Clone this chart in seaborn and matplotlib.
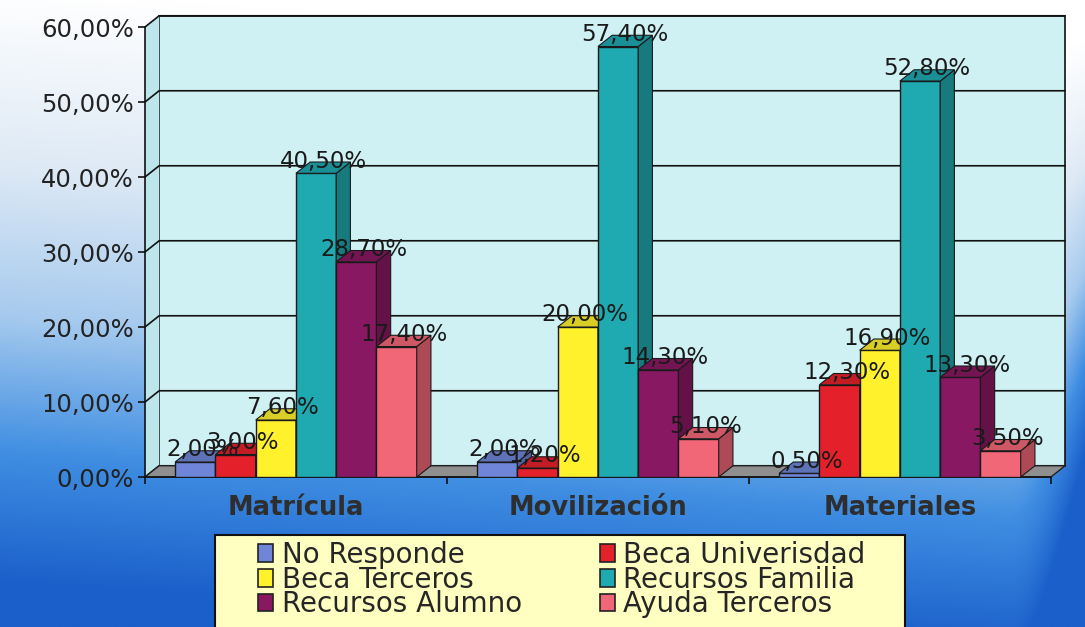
import numpy as np
import pandas as pd
import matplotlib
matplotlib.use("Agg")
import matplotlib.pyplot as plt
import seaborn as sns
from matplotlib.patches import Polygon, Rectangle, Patch
from matplotlib.colors import LinearSegmentedColormap, to_rgb
from matplotlib.ticker import FuncFormatter

# Data (percent)
categories = ["Matrícula", "Movilización", "Materiales"]
sources = ["No Responde", "Beca Univerisdad", "Beca Terceros",
           "Recursos Familia", "Recursos Alumno", "Ayuda Terceros"]
no_responde = [2.00, 2.00, 0.50]
beca_univ = [3.00, 1.20, 12.30]
beca_terceros = [7.60, 20.00, 16.90]
recursos_familia = [40.50, 57.40, 52.80]
recursos_alumno = [28.70, 14.30, 13.30]
ayuda_terceros = [17.40, 5.10, 3.50]
colors = ["#6f86d8", "#e4212b", "#fff22c", "#1fa9b1", "#891862", "#f26777"]
yticks = [0, 10, 20, 30, 40, 50, 60]

series = [no_responde, beca_univ, beca_terceros,
          recursos_familia, recursos_alumno, ayuda_terceros]
df = pd.DataFrame({
    "Uso": categories * len(sources),
    "Fuente": [s for s in sources for _ in categories],
    "Porcentaje": [v for vals in series for v in vals],
})


def pct(v):
    return f"{v:.2f}".replace(".", ",") + "%"


def shade(c, f):
    r, g, b = to_rgb(c)
    return (r * f, g * f, b * f)


sns.set_theme(style="white")
plt.rcParams["font.family"] = ["DejaVu Sans"]

fig = plt.figure(figsize=(10.85, 6.27), dpi=100)

# background gradient (white top -> blue bottom, bluer at the edges)
bg = fig.add_axes([0, 0, 1, 1], zorder=-10)
bg.axis("off")
yy, xx = np.mgrid[0:1:300j, 0:1:500j]
t = yy * 1.05 + (1 - xx) * 0.12 - 0.1 + np.clip((xx - 0.93) / 0.07, 0, 1) ** 2 * 0.45 * yy
t = np.clip(t, 0, 1)
cmap = LinearSegmentedColormap.from_list(
    "bgblue", [(0, "#ffffff"), (0.3, "#dde9f5"), (0.55, "#a6caee"),
               (0.78, "#3f8ee2"), (1, "#1b5fca")])
bg.imshow(t, cmap=cmap, aspect="auto", extent=[0, 1, 0, 1], vmin=0, vmax=1)

ax = fig.add_axes([0.1336, 0.2392, 0.835, 0.7177])
ax.patch.set_alpha(0)

sns.barplot(data=df, x="Uso", y="Porcentaje", hue="Fuente", order=categories,
            hue_order=sources, palette=colors, saturation=1, width=0.8,
            edgecolor="#1a1a1a", linewidth=1, ax=ax, legend=False)

ax.set_xlim(-0.5, 2.5)
ax.set_ylim(0, 60)
dx, dy = 0.047, 1.5

# walls, floor and gridlines
ax.add_patch(Rectangle((-0.5 + dx, dy), 3, 60, facecolor="#cff1f4",
                       edgecolor="#111111", lw=1.2, zorder=0.5, clip_on=False))
ax.add_patch(Polygon([(-0.5, 0), (-0.5 + dx, dy), (-0.5 + dx, 60 + dy), (-0.5, 60)],
                     closed=True, facecolor="#bde6ec", edgecolor="none",
                     zorder=0.5, clip_on=False))
for v in yticks:
    ax.plot([-0.5, -0.5 + dx, 2.5 + dx], [v, v + dy, v + dy], color="#111111",
            lw=1.2, zorder=0.6, clip_on=False)
ax.add_patch(Polygon([(-0.5, 0), (2.5, 0), (2.5 + dx, dy), (-0.5 + dx, dy)],
                     closed=True, facecolor="#8f8f8f", edgecolor="#222222",
                     lw=1, zorder=0.7, clip_on=False))

# 3D faces and value labels
for i, cont in enumerate(ax.containers):
    z = 3 + i * 0.1
    for bar in cont:
        x, w, h = bar.get_x(), bar.get_width(), bar.get_height()
        fc = bar.get_facecolor()
        bar.set_zorder(z)
        ax.add_patch(Polygon([(x + w, 0), (x + w + dx, dy), (x + w + dx, h + dy), (x + w, h)],
                             closed=True, facecolor=shade(fc, 0.72),
                             edgecolor="#1a1a1a", lw=0.8, zorder=z + 0.01, clip_on=False))
        ax.add_patch(Polygon([(x, h), (x + w, h), (x + w + dx, h + dy), (x + dx, h + dy)],
                             closed=True, facecolor=shade(fc, 0.85),
                             edgecolor="#1a1a1a", lw=0.8, zorder=z + 0.02, clip_on=False))
        ax.text(x + w / 2 + dx / 2, h + 0.1, pct(h), ha="center", va="bottom",
                fontsize=16.5, color="#1a1a1a", zorder=10, clip_on=False)

# axes styling
for s in ["top", "right"]:
    ax.spines[s].set_visible(False)
for s in ["left", "bottom"]:
    ax.spines[s].set_color("#111111")
    ax.spines[s].set_linewidth(1.2)
ax.spines["left"].set_zorder(1)
ax.set_yticks(yticks)
ax.yaxis.set_major_formatter(FuncFormatter(lambda v, _: pct(v)))
ax.tick_params(axis="y", direction="out", length=5, width=1.2, color="#111111",
               labelsize=17.5, labelcolor="#222222", pad=3, left=True)
ax.set_xticks([0, 1, 2])
ax.set_xticklabels(categories, fontweight="bold", fontsize=18.5, color="#2e2e2e")
ax.set_xticks([-0.5, 0.5, 1.5, 2.5], minor=True)
ax.tick_params(axis="x", which="major", length=0, pad=13)
ax.tick_params(axis="x", which="minor", direction="out", length=5, width=1.2,
               color="#111111", bottom=True)
ax.set_xlabel("")
ax.set_ylabel("")
ax.grid(False)

# legend box
fig.patches.append(Rectangle((215 / 1085, -0.02), 690 / 1085, 0.02 + 92 / 627,
                             transform=fig.transFigure, facecolor="#ffffc2",
                             edgecolor="#111111", lw=1.5, zorder=1))
handles = [Patch(facecolor=c, edgecolor="#222222", lw=1.2) for c in colors]
order = [0, 2, 4, 1, 3, 5]
fig.legend([handles[k] for k in order], [sources[k] for k in order], ncol=2,
           loc="upper left", bbox_to_anchor=(258 / 1085, 1 - 541 / 627),
           frameon=False, fontsize=20, handlelength=0.55, handleheight=0.6,
           handletextpad=0.3, labelspacing=-0.12, columnspacing=2.8,
           borderpad=0, borderaxespad=0)

fig.savefig("out.png", dpi=100)
